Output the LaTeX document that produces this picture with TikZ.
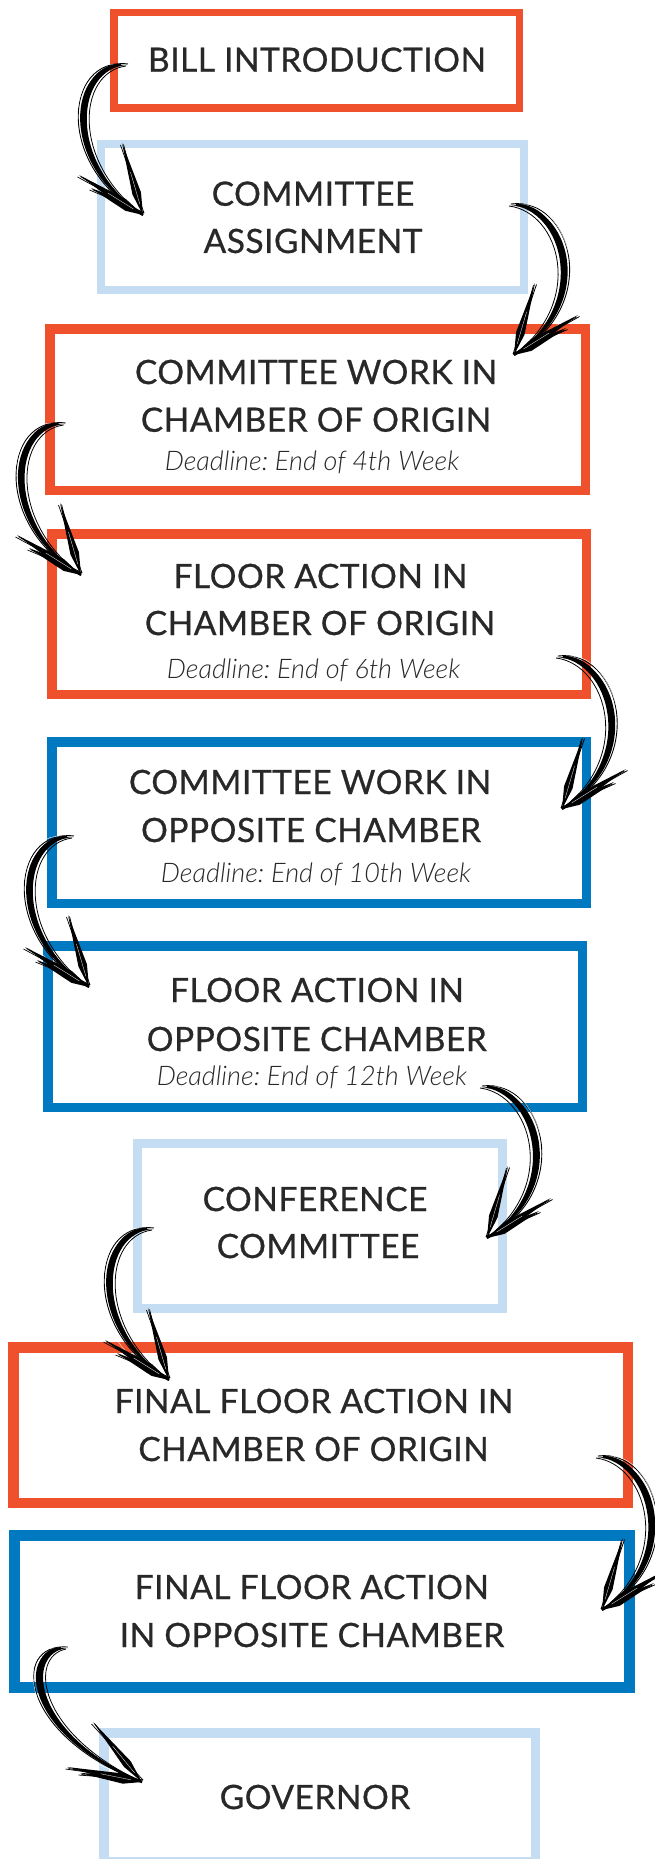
\documentclass[tikz,border=0pt]{standalone}
\usepackage{fontspec}
\setmainfont{Lato}
\newfontfamily\titlefont{Lato}[FakeBold=0.7,LetterSpace=1.5]
\newfontfamily\dlfont{Lato Light Italic}
\usetikzlibrary{calc}
\definecolor{cred}{RGB}{240,81,45}
\definecolor{cblue}{RGB}{0,121,193}
\definecolor{clight}{RGB}{197,221,242}
\definecolor{ctext}{RGB}{40,40,40}
\tikzset{
  title/.style={anchor=base, text=ctext, inner sep=0pt, font=\titlefont\fontsize{33.5}{40}\selectfont},
  dline/.style={anchor=base, text=ctext, inner sep=0pt, font=\dlfont\fontsize{27}{32}\selectfont\frenchspacing},
}
\newcommand{\flowbox}[7]{%
  \pgfmathsetmacro{\bxcx}{(#4+#6)/2}\pgfmathsetmacro{\bxcy}{(#5+#7)/2}%
  \pgfmathsetmacro{\bxw}{#6-#4-#3}\pgfmathsetmacro{\bxh}{#7-#5-#3}%
  \node[draw=#2, line width=#3pt, minimum width=\bxw pt, minimum height=\bxh pt, inner sep=0pt] (#1) at (\bxcx,\bxcy) {};}
\newcommand{\brushstroke}[7]{%
  \coordinate (hM) at ($(#1)!0.5!(#4)$);
  \fill[black] (#1) .. controls ($(hM)!1.07!(#2)$) and ($(hM)!1.08!(#3)$) .. (#4)
     .. controls ($(hM)!0.94!(#3)$) and ($(hM)!0.95!(#2)$) .. (#1) -- cycle;
  \draw[line width=2.4pt, shorten <=6pt] (#1) .. controls ($(hM)!1.0!(#2)$) and ($(hM)!1.0!(#3)$) .. (#4);
  \draw[line width=0.9pt] ($(#1)+(1,-1)$) .. controls ($(hM)!1.12!(#2)$) and ($(hM)!1.11!(#3)$) .. (#4);
  \draw[line width=0.8pt] ($(#1)+(-1,1)$) .. controls ($(hM)!0.9!(#2)$) and ($(hM)!0.89!(#3)$) .. (#4);
  \draw[white, line width=0.35pt, shorten <=14pt, shorten >=35pt] (#1) .. controls ($(hM)!1.03!(#2)$) and ($(hM)!1.03!(#3)$) .. (#4);
  \foreach \bb in {#5,#6,#7} {
    \fill (\bb) -- ($(#4)!0.3!(\bb)!4.4pt!90:(#4)$) -- (#4) -- ($(#4)!0.3!(\bb)!4.4pt!-90:(#4)$) -- cycle;
    \draw[line width=0.8pt] ($(\bb)+(1.5,1.5)$) -- ($(#4)+(-1,-1)$);
    \draw[line width=0.7pt] ($(\bb)+(-1.5,2)$) -- ($(#4)+(1,-2)$);
  }
  \draw[white, line width=0.3pt] ($(#4)!0.15!(#5)$) -- ($(#4)!0.6!(#5)$);
  \draw[white, line width=0.3pt] ($(#4)!0.15!(#6)$) -- ($(#4)!0.55!(#6)$);
}
\newcommand{\hookarrow}[3]{%
  \coordinate (hC1) at ($(#1)+({-56*#3},0)$);
  \coordinate (hC2) at ($(#2)+({-80*#3},-50)$);
  \coordinate (hBA) at ($(#2)+({-21*#3},-72)$);
  \coordinate (hBB) at ($(#2)+({-64*#3},-40)$);
  \coordinate (hBC) at ($(#2)+({-52*#3},-27)$);
  \brushstroke{#1}{hC1}{hC2}{#2}{hBA}{hBB}{hBC}}
\begin{document}
\begin{tikzpicture}[x=1pt,y=-1pt]
\useasboundingbox (0,0) rectangle (655,1859);
\clip (0,0) rectangle (655,1859);
\fill[white] (0,0) rectangle (655,1859);
% boxes
\flowbox{b1}{cred}{7.5}{110}{9}{523}{112}
\flowbox{b2}{clight}{8.3}{97}{140}{528}{294}
\flowbox{b3}{cred}{9.5}{45}{324}{590}{495}
\flowbox{b4}{cred}{9.5}{47}{529}{591}{699}
\flowbox{b5}{cblue}{9.5}{47}{737}{591}{908}
\flowbox{b6}{cblue}{9.5}{43}{941}{587}{1112}
\flowbox{b7}{clight}{9}{133}{1139}{507}{1313}
\flowbox{b8}{cred}{10.5}{8}{1342}{633}{1508}
\flowbox{b9}{cblue}{11}{9}{1530}{635}{1693}
\flowbox{b10}{clight}{9.5}{99}{1728}{540}{1866}
% texts
\node[title] (t1) at (317,71.7) {BILL INTRODUCTION};
\node[title] (t2a) at (313,205.7) {COMMITTEE};
\node[title] (t2b) at (313,253) {ASSIGNMENT};
\node[title] (t3a) at (316,384) {COMMITTEE WORK IN};
\node[title] (t3b) at (316,431.7) {CHAMBER OF ORIGIN};
\node[dline] (d3) at (312,470.7) {Deadline: End of 4th Week};
\node[title] (t4a) at (320.5,588) {FLOOR ACTION IN};
\node[title] (t4b) at (320,635) {CHAMBER OF ORIGIN};
\node[dline] (d4) at (313.5,678) {Deadline: End of 6th Week};
\node[title] (t5a) at (310,794) {COMMITTEE WORK IN};
\node[title] (t5b) at (311,842) {OPPOSITE CHAMBER};
\node[dline] (d5) at (316,882.7) {Deadline: End of 10th Week};
\node[title] (t6a) at (317,1002) {FLOOR ACTION IN};
\node[title] (t6b) at (316.7,1051) {OPPOSITE CHAMBER};
\node[dline] (d6) at (311.8,1085) {Deadline: End of 12th Week};
\node[title] (t7a) at (315,1211) {CONFERENCE};
\node[title] (t7b) at (318,1258) {COMMITTEE};
\node[title] (t8a) at (314,1413) {FINAL FLOOR ACTION IN};
\node[title] (t8b) at (313.5,1461) {CHAMBER OF ORIGIN};
\node[title] (t9a) at (311.8,1599) {FINAL FLOOR ACTION};
\node[title] (t9b) at (312,1647) {IN OPPOSITE CHAMBER};
\node[title] (t10) at (315,1809) {GOVERNOR};
% arrows
\coordinate (a1s) at (127,65);   \coordinate (a1t) at (143,215);
\coordinate (a2s) at (510,205);  \coordinate (a2t) at (514,355);
\coordinate (a3s) at (64.6,424); \coordinate (a3t) at (81,575);
\coordinate (a4s) at (557,657);  \coordinate (a4t) at (562,809);
\coordinate (a5s) at (73,837);   \coordinate (a5t) at (89,987);
\coordinate (a6s) at (481,1087); \coordinate (a6t) at (487,1238);
\coordinate (a7s) at (153,1229); \coordinate (a7t) at (169,1380);
\coordinate (a8s) at (597,1457); \coordinate (a8t) at (602,1610);
\hookarrow{a1s}{a1t}{1}
\hookarrow{a2s}{a2t}{-1}
\hookarrow{a3s}{a3t}{1}
\hookarrow{a4s}{a4t}{-1}
\hookarrow{a5s}{a5t}{1}
\hookarrow{a6s}{a6t}{-1}
\hookarrow{a7s}{a7t}{1}
\hookarrow{a8s}{a8t}{-1}
\coordinate (a9s) at (67,1648);  \coordinate (a9t) at (142,1782);
\coordinate (a9c1) at (20,1650); \coordinate (a9c2) at (28,1735);
\coordinate (a9ba) at (93,1722); \coordinate (a9bb) at (67,1767); \coordinate (a9bc) at (80,1773);
\brushstroke{a9s}{a9c1}{a9c2}{a9t}{a9ba}{a9bb}{a9bc}
\end{tikzpicture}
\end{document}
